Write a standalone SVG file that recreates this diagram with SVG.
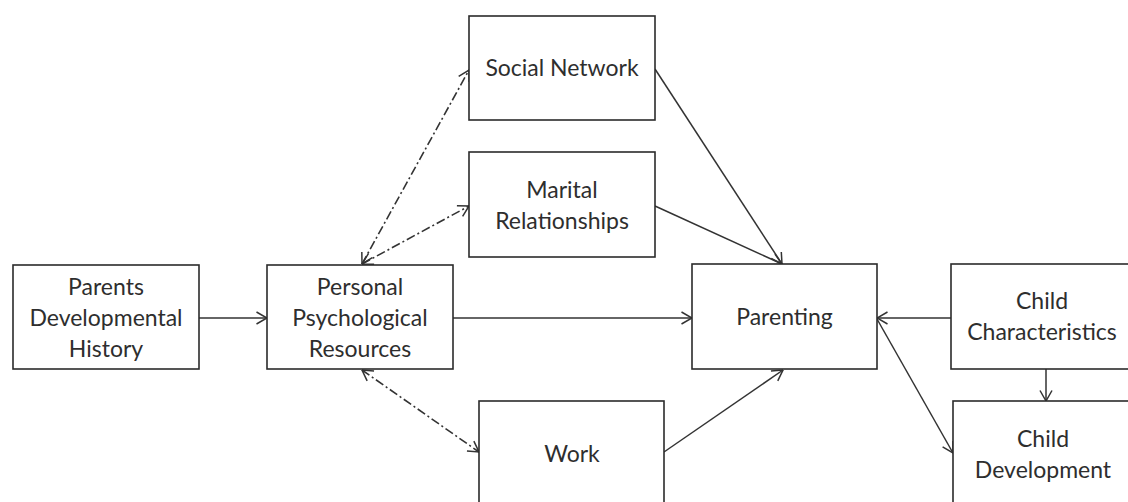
<svg xmlns="http://www.w3.org/2000/svg" width="1128" height="502" viewBox="0 0 1128 502">
  <style>
    .box { fill: #ffffff; stroke: #2b2b2b; stroke-width: 1.6; }
    .label { font-family: Lato, "Open Sans", "Liberation Sans", sans-serif; font-size: 23px; fill: #2e2e2e; text-anchor: middle; }
    .solid { fill: none; stroke: #333333; stroke-width: 1.5; }
    .dashdot { fill: none; stroke: #333333; stroke-width: 1.6; stroke-dasharray: 9 3 2 3; }
  </style>
  <defs>
    <marker id="open-arrow" viewBox="0 0 12 14" refX="11.5" refY="7" markerWidth="12" markerHeight="14" markerUnits="userSpaceOnUse" orient="auto-start-reverse">
      <path d="M1,1 L11.5,7 L1,13" fill="none" stroke="#333333" stroke-width="1.5"/>
    </marker>
  </defs>
  <rect width="1128" height="502" fill="#ffffff"/>

  <g id="connectors">
    <line class="solid" x1="199" y1="318" x2="267" y2="318" marker-end="url(#open-arrow)"/>
    <line class="solid" x1="453" y1="318" x2="692" y2="318" marker-end="url(#open-arrow)"/>
    <line class="solid" x1="951" y1="318" x2="877" y2="318" marker-end="url(#open-arrow)"/>
    <line class="solid" x1="655" y1="69" x2="782" y2="264" marker-end="url(#open-arrow)"/>
    <line class="solid" x1="655" y1="206" x2="782" y2="264" marker-end="url(#open-arrow)"/>
    <line class="solid" x1="664" y1="452" x2="783" y2="370" marker-end="url(#open-arrow)"/>
    <line class="solid" x1="877" y1="319" x2="953" y2="453" marker-end="url(#open-arrow)"/>
    <line class="solid" x1="1046" y1="369" x2="1046" y2="401" marker-end="url(#open-arrow)"/>
    <line class="dashdot" x1="362" y1="264" x2="469" y2="70" marker-start="url(#open-arrow)" marker-end="url(#open-arrow)"/>
    <line class="dashdot" x1="362" y1="264" x2="469" y2="206" marker-start="url(#open-arrow)" marker-end="url(#open-arrow)"/>
    <line class="dashdot" x1="362" y1="370" x2="479" y2="452" marker-start="url(#open-arrow)" marker-end="url(#open-arrow)"/>
  </g>

  <g id="parents-history">
    <rect class="box" x="13" y="265" width="186" height="104"/>
    <text class="label" x="106" y="295">Parents</text>
    <text class="label" x="106" y="326">Developmental</text>
    <text class="label" x="106" y="357">History</text>
  </g>

  <g id="personal-resources">
    <rect class="box" x="267" y="265" width="186" height="104"/>
    <text class="label" x="360" y="295">Personal</text>
    <text class="label" x="360" y="326">Psychological</text>
    <text class="label" x="360" y="357">Resources</text>
  </g>

  <g id="social-network">
    <rect class="box" x="469" y="16" width="186" height="104"/>
    <text class="label" x="562" y="76">Social Network</text>
  </g>

  <g id="marital-relationships">
    <rect class="box" x="469" y="152" width="186" height="105"/>
    <text class="label" x="562" y="198">Marital</text>
    <text class="label" x="562" y="229">Relationships</text>
  </g>

  <g id="work">
    <rect class="box" x="479" y="401" width="185" height="106"/>
    <text class="label" x="572" y="462">Work</text>
  </g>

  <g id="parenting">
    <rect class="box" x="692" y="264" width="185" height="105"/>
    <text class="label" x="784.5" y="325">Parenting</text>
  </g>

  <g id="child-characteristics">
    <rect class="box" x="951" y="264" width="186" height="105"/>
    <text class="label" x="1042" y="309">Child</text>
    <text class="label" x="1042" y="340">Characteristics</text>
  </g>

  <g id="child-development">
    <rect class="box" x="953" y="401" width="186" height="106"/>
    <text class="label" x="1043" y="447">Child</text>
    <text class="label" x="1043" y="478">Development</text>
  </g>
</svg>
